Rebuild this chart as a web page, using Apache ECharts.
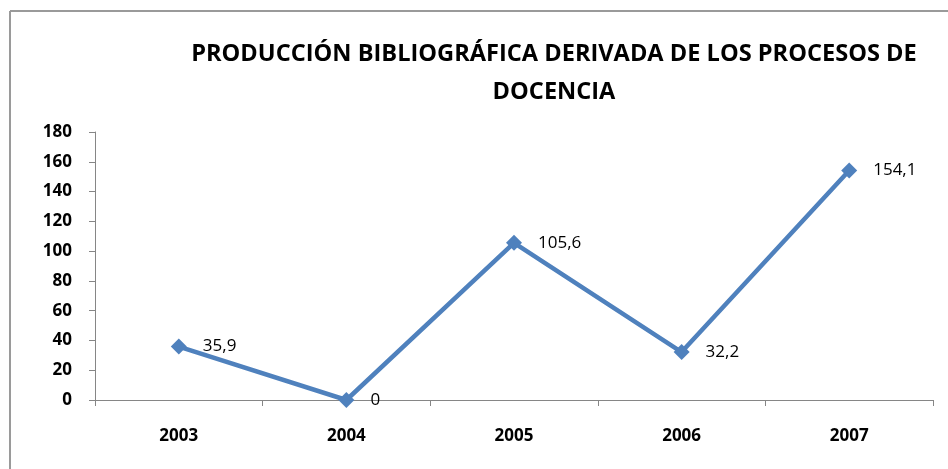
<!DOCTYPE html>
<html>
<head>
<meta charset="utf-8">
<script src="https://cdn.jsdelivr.net/npm/echarts@6/dist/echarts.min.js"></script>
<style>
html,body{margin:0;padding:0;background:#fff;}
#chart{width:948px;height:469px;}
</style>
</head>
<body>
<div id="chart"></div>
<script>
const titleText = 'PRODUCCIÓN BIBLIOGRÁFICA DERIVADA DE LOS PROCESOS DE\nDOCENCIA';
const categories = ['2003', '2004', '2005', '2006', '2007'];
const values = [35.9, 0, 105.6, 32.2, 154.1];
const yMin = 0, yMax = 180, yStep = 20;

const chart = echarts.init(document.getElementById('chart'));
chart.setOption({
  animation: false,
  backgroundColor: '#fff',
  title: {
    text: titleText,
    left: 549,
    textAlign: 'center',
    top: 30,
    textStyle: {
      fontFamily: 'Open Sans',
      fontWeight: 'bold',
      fontSize: 23.6,
      lineHeight: 38,
      color: '#000'
    }
  },
  graphic: [
    { type: 'line', shape: { x1: 10, y1: 11, x2: 948, y2: 11 }, style: { stroke: '#9a9a9a', lineWidth: 2 } },
    { type: 'line', shape: { x1: 10, y1: 11, x2: 10, y2: 469 }, style: { stroke: '#9a9a9a', lineWidth: 2 } }
  ],
  grid: { left: 95, right: 15, top: 132, bottom: 69, containLabel: false },
  xAxis: {
    type: 'category',
    data: categories,
    boundaryGap: true,
    axisLine: { lineStyle: { color: '#868686', width: 1 } },
    axisTick: { show: true, length: 6, interval: 0, lineStyle: { color: '#868686' } },
    axisLabel: { margin: 28, fontFamily: 'Open Sans', fontWeight: 'bold', fontSize: 17, color: '#000' }
  },
  yAxis: {
    type: 'value',
    min: yMin, max: yMax, interval: yStep,
    splitLine: { show: false },
    axisLine: { show: true, lineStyle: { color: '#868686', width: 1 } },
    axisTick: { show: true, length: 6, lineStyle: { color: '#868686' } },
    axisLabel: { margin: 23, fontFamily: 'Open Sans', fontWeight: 'bold', fontSize: 17, color: '#000' }
  },
  series: [{
    type: 'line',
    data: values,
    symbol: 'diamond',
    symbolSize: 16,
    itemStyle: { color: '#4F81BD' },
    lineStyle: { color: '#4F81BD', width: 4.5 },
    label: {
      show: true,
      position: 'right',
      distance: 16,
      fontFamily: 'Open Sans',
      fontSize: 17,
      color: '#000',
      formatter: p => String(p.value).replace('.', ',')
    }
  }]
});
</script>
</body>
</html>
